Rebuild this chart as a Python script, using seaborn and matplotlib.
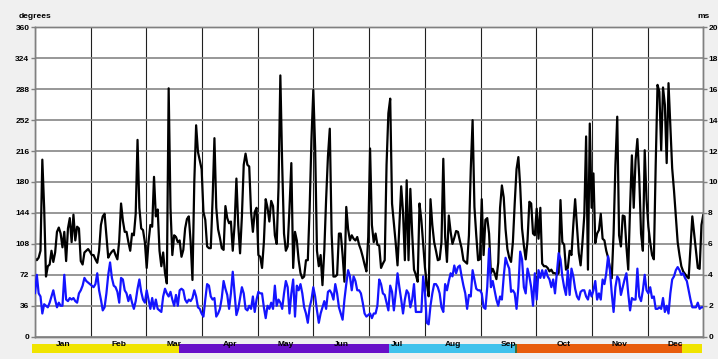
import numpy as np
import pandas as pd
import matplotlib
matplotlib.use("Agg")
import matplotlib.pyplot as plt
import seaborn as sns

# ---------------- data ----------------
months = ["Jan", "Feb", "Mar", "Apr", "May", "Jun",
          "Jul", "Aug", "Sep", "Oct", "Nov", "Dec"]

# daily wind direction (degrees, left axis)
direction_deg = [
    # Jan-Feb
    91, 89, 92, 100, 206, 150, 70, 82, 84, 100,
    87, 98, 122, 127, 120, 104, 122, 88, 126, 138,
    110, 142, 112, 128, 126, 88, 84, 98, 100, 102,
    99, 95, 95, 90, 86, 100, 130, 140, 143, 118,
    92, 96, 99, 101, 95, 90, 112, 155, 135, 122,
    122, 110, 100, 120, 118, 143, 229, 150, 126, 124,
    110,
    # Mar-Apr
    80, 110, 130, 128, 186, 140, 148, 100, 82, 98,
    74, 62, 289, 150, 95, 118, 116, 110, 112, 93,
    101, 126, 137, 140, 110, 66, 180, 246, 215, 205,
    195, 145, 136, 105, 103, 103, 160, 231, 150, 125,
    115, 103, 101, 152, 138, 132, 134, 100, 130, 184,
    130, 97, 140, 200, 213, 200, 198, 145, 122, 145,
    150,
    # May-Jun
    95, 93, 80, 110, 160, 150, 134, 158, 152, 118,
    108, 174, 304, 200, 120, 100, 105, 150, 202, 80,
    122, 112, 89, 74, 68, 70, 89, 89, 150, 230,
    287, 220, 100, 82, 95, 60, 100, 160, 210, 242,
    120, 70, 70, 72, 120, 120, 95, 64, 151, 125,
    112, 118, 114, 112, 116, 107, 101, 93, 84, 76,
    116,
    # Jul-Aug
    219, 130, 110, 120, 107, 106, 80, 85, 89, 200,
    260, 277, 155, 132, 109, 83, 130, 175, 145, 89,
    182, 89, 172, 120, 78, 72, 64, 155, 136, 108,
    80, 62, 47, 160, 130, 110, 100, 89, 90, 110,
    207, 116, 87, 141, 122, 108, 115, 123, 122, 112,
    103, 89, 87, 85, 118, 195, 252, 151, 118, 89,
    # Sep-Oct
    90, 160, 95, 136, 138, 120, 74, 79, 74, 67,
    86, 150, 176, 162, 125, 102, 92, 87, 110, 155,
    195, 209, 175, 126, 106, 90, 112, 157, 155, 120,
    118, 149, 114, 150, 85, 82, 82, 80, 76, 78,
    74, 74, 72, 74, 159, 110, 107, 78, 80, 100,
    95, 130, 160, 128, 97, 83, 110, 141, 233, 78,
    # Nov-Dec
    248, 150, 190, 109, 120, 124, 143, 114, 112, 100,
    92, 80, 68, 120, 200, 256, 118, 105, 141, 140,
    105, 78, 150, 211, 150, 205, 230, 186, 120, 100,
    217, 160, 128, 110, 95, 90, 200, 293, 285, 217,
    290, 270, 202, 295, 245, 196, 170, 140, 110, 95,
    82, 76, 73, 70, 68, 105, 140, 120, 100, 80,
    79, 130, 142,
]

# daily wind speed (m/s, right axis)
speed_ms = [
    # Jan-Feb
    2.8, 4.0, 2.8, 2.6, 1.5, 2.1, 2.0, 1.9, 2.2, 2.6,
    3.0, 2.4, 1.9, 2.2, 2.0, 2.0, 4.0, 2.4, 2.3, 2.5,
    2.4, 2.5, 2.3, 2.2, 2.8, 3.0, 3.3, 3.8, 3.6, 3.5,
    3.4, 3.3, 3.2, 3.4, 4.1, 3.0, 2.4, 1.7, 1.9, 2.8,
    4.0, 4.8, 3.8, 3.3, 3.2, 2.9, 2.2, 3.8, 3.7, 3.0,
    2.8, 2.3, 2.7, 2.2, 1.8, 2.3, 3.1, 3.7, 2.9, 2.4,
    2.2,
    # Mar-Apr
    3.0, 2.4, 1.8, 2.5, 1.8, 2.4, 1.8, 1.7, 1.6, 2.6,
    3.1, 2.8, 2.6, 2.9, 2.4, 2.0, 2.7, 2.0, 3.0, 3.1,
    3.0, 2.4, 2.2, 2.4, 2.3, 2.5, 3.0, 2.6, 1.9, 1.8,
    1.5, 1.3, 2.4, 3.4, 3.3, 2.6, 2.4, 2.5, 1.3, 1.5,
    1.8, 2.5, 3.6, 3.1, 2.7, 1.8, 2.8, 4.2, 2.8, 1.4,
    1.8, 2.5, 3.2, 2.8, 1.8, 1.7, 2.0, 1.8, 2.6, 1.6,
    2.4,
    # May-Jun
    2.9, 2.8, 2.8, 1.9, 1.2, 2.0, 1.8, 2.2, 1.8, 3.3,
    2.0, 2.4, 2.2, 1.8, 2.8, 3.6, 3.2, 1.5, 2.8, 3.7,
    1.3, 3.3, 3.0, 3.4, 2.8, 1.9, 1.5, 0.9, 1.9, 2.4,
    3.2, 2.6, 1.7, 0.9, 1.5, 1.9, 2.3, 1.8, 2.9, 3.0,
    2.8, 2.4, 3.4, 2.8, 1.9, 1.5, 1.1, 2.4, 3.4, 4.3,
    3.9, 3.0, 3.9, 3.6, 3.0, 3.0, 2.8, 2.2, 1.5, 1.3,
    1.4,
    # Jul-Aug
    1.5, 1.2, 1.5, 1.5, 2.0, 3.7, 3.4, 2.8, 2.7, 2.2,
    1.7, 3.3, 2.9, 1.7, 2.8, 4.1, 3.2, 2.4, 1.5, 2.4,
    3.0, 2.8, 1.9, 2.4, 3.4, 1.6, 1.6, 1.6, 1.6, 3.9,
    2.8, 0.9, 0.8, 2.0, 2.8, 3.4, 3.4, 3.2, 2.8, 1.9,
    1.6, 3.4, 3.0, 3.6, 4.1, 3.9, 4.6, 4.1, 4.5, 4.6,
    3.9, 3.3, 2.8, 1.8, 2.7, 2.6, 4.3, 3.7, 3.1, 3.0,
    # Sep-Oct
    3.0, 2.8, 1.9, 1.8, 3.2, 5.7, 3.2, 3.6, 3.0, 2.4,
    2.0, 2.6, 2.4, 3.9, 5.1, 4.7, 4.4, 2.9, 3.0, 2.8,
    1.8, 3.2, 5.5, 5.0, 3.2, 2.8, 4.4, 3.9, 3.2, 2.0,
    4.1, 2.4, 4.3, 3.8, 4.3, 3.8, 4.3, 3.9, 3.7, 3.2,
    3.7, 2.8, 4.1, 5.4, 5.0, 3.9, 3.2, 2.7, 4.3, 2.7,
    4.4, 3.9, 3.1, 2.6, 2.4, 2.9, 3.0, 3.0, 2.6, 2.4,
    # Nov-Dec
    3.0, 2.6, 3.0, 3.6, 2.4, 2.8, 2.4, 3.7, 3.4, 4.1,
    5.2, 4.3, 2.8, 1.6, 3.2, 3.9, 3.7, 2.7, 3.2, 3.7,
    4.1, 2.8, 1.7, 2.5, 2.4, 2.4, 4.4, 2.6, 2.3, 3.0,
    4.0, 3.0, 2.8, 3.2, 2.5, 2.6, 1.8, 1.8, 1.9, 1.8,
    2.5, 1.6, 2.0, 1.5, 2.8, 3.7, 3.9, 4.3, 4.5, 4.3,
    4.0, 4.1, 3.8, 3.6, 3.0, 2.4, 1.9, 1.9, 1.9, 2.2,
    1.8, 1.9, 1.9,
]

deg_ticks = [0, 36, 72, 108, 144, 180, 216, 252, 288, 324, 360]
ms_ticks = [0, 2, 4, 6, 8, 10, 12, 14, 16, 18, 20]

# seasons along the bottom strip (day of year)
season_names = ["winter", "spring", "summer", "transition", "autumn", "winter2"]
season_start = [-1.6, 78.7, 193.4, 262.3, 263.5, 353.1]
season_end = [78.7, 193.4, 262.3, 263.5, 353.1, 364.5]

# ---------------- styles ----------------
season_colors = {"winter": "#f0e400", "spring": "#6810c8", "summer": "#40c2ec",
                 "transition": "#3d6e3a", "autumn": "#e85c0c", "winter2": "#f0e400"}

sns.set_theme(style="white")
plt.rcParams["font.family"] = ["Liberation Sans", "DejaVu Sans"]
plt.rcParams["font.weight"] = "bold"
plt.rcParams["text.color"] = "black"
plt.rcParams["xtick.color"] = "black"
plt.rcParams["ytick.color"] = "black"

W_PX, H_PX = 718, 359
fig = plt.figure(figsize=(W_PX / 100, H_PX / 100), dpi=100, facecolor="#f0f0f0")

L = 35 / W_PX
R = 703.3 / W_PX
B = 1 - 336.7 / H_PX
T = 1 - 27.3 / H_PX
ax = fig.add_axes([L, B, R - L, T - B])
ax.set_facecolor("white")

df_dir = pd.DataFrame({"day": np.arange(len(direction_deg)), "value": direction_deg})
df_spd = pd.DataFrame({"day": np.arange(len(speed_ms)), "value": speed_ms})
xmax = max(len(direction_deg), len(speed_ms)) - 1

sns.lineplot(data=df_dir, x="day", y="value", ax=ax, color="black", lw=1.6, zorder=3)
ax.set_xlim(0, xmax)
ax.set_ylim(0, 360)
ax.set_yticks(deg_ticks)
bounds = np.linspace(0, xmax, 13)
ax.set_xticks(bounds)
ax.set_xticklabels([])
ax.tick_params(axis="x", length=0)
ax.tick_params(axis="y", labelsize=6, length=3, width=1, color="#808080", pad=1)
ax.grid(axis="y", color="#858585", lw=1.2, zorder=0)
ax.grid(axis="x", color="#202020", lw=0.8, zorder=0)
ax.set_axisbelow(True)
ax.set_xlabel("")
ax.set_ylabel("")

ax2 = ax.twinx()
sns.lineplot(data=df_spd, x="day", y="value", ax=ax2, color="#1414ff", lw=1.6, zorder=4)
ax2.set_xlim(0, xmax)
ax2.set_ylim(0, 20)
ax2.set_yticks(ms_ticks)
ax2.grid(False)
ax2.tick_params(axis="y", labelsize=6, length=3, width=1, color="#808080", pad=0.5)
ax2.set_ylabel("")
ax2.set_xlabel("")

for a in (ax, ax2):
    for s in a.spines.values():
        s.set_color("#808080")
        s.set_linewidth(1.0)

fig.text(19 / W_PX, 1 - 16.7 / H_PX, "degrees", ha="left", va="center", fontsize=6, fontweight="bold")
fig.text(703 / W_PX, 1 - 16.7 / H_PX, "ms", ha="center", va="center", fontsize=6, fontweight="bold")

# season strip + month labels
axb = fig.add_axes([L, 1 - 352.7 / H_PX, R - L, 8.4 / H_PX])
axb.set_xlim(0, xmax)
axb.set_ylim(0, 1)
axb.axis("off")
for name, s0, s1 in zip(season_names, season_start, season_end):
    axb.barh(0.5, s1 - s0, left=s0, height=1.0, color=season_colors[name],
             edgecolor="none", clip_on=False)
centers = (bounds[:-1] + bounds[1:]) / 2
for c, m in zip(centers, months):
    axb.text(c, 0.97, m, ha="center", va="center", fontsize=6, fontweight="bold",
             color="black", zorder=5, clip_on=False)

fig.savefig("out.png", dpi=100, facecolor=fig.get_facecolor())
